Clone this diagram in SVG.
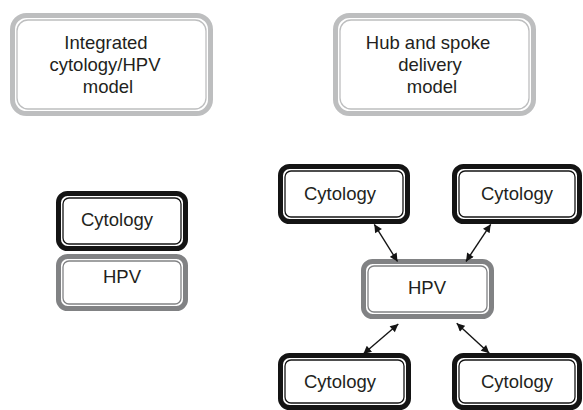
<svg xmlns="http://www.w3.org/2000/svg" width="583" height="410" viewBox="0 0 583 410">
<style>
  .t{font-family:"Liberation Sans",Arial,sans-serif;font-size:18.5px;fill:#231f20;text-anchor:middle}
  .o{fill:#fff;stroke-width:5}
  .i{fill:none;stroke-width:1.3}
  .lg{stroke:#bdbebf}
  .dg{stroke:#818284}
  .bk{stroke:#141414}
  .conn line{stroke:#141414;stroke-width:1.4}
</style>
<defs>
  <marker id="ah" viewBox="0 0 10 10" refX="10" refY="5" markerWidth="9" markerHeight="8" markerUnits="userSpaceOnUse" orient="auto-start-reverse">
    <path d="M0,0 L10,5 L0,10 z" fill="#141414"/>
  </marker>
</defs>
<rect width="583" height="410" fill="#fff"/>

<g id="integrated-model">
  <rect class="o lg" x="12.5" y="15.5" width="198" height="98" rx="14"/>
  <rect class="i lg" x="17" y="20" width="189" height="89" rx="11"/>
  <text class="t" x="106" y="49">Integrated</text>
  <text class="t" x="105" y="71">cytology/HPV</text>
  <text class="t" x="108" y="93">model</text>
</g>

<g id="hub-spoke-model">
  <rect class="o lg" x="335.5" y="15.5" width="198" height="98" rx="14"/>
  <rect class="i lg" x="340" y="20" width="189" height="89" rx="11"/>
  <text class="t" x="428" y="49">Hub and spoke</text>
  <text class="t" x="430" y="71">delivery</text>
  <text class="t" x="432" y="93">model</text>
</g>

<g id="left-cytology">
  <rect class="o bk" x="58.5" y="193.5" width="127" height="55" rx="9"/>
  <rect class="i bk" x="63" y="198" width="118" height="46" rx="6"/>
  <text class="t" x="117" y="226">Cytology</text>
</g>

<g id="left-hpv">
  <rect class="o dg" x="58.5" y="256.5" width="127" height="52" rx="9"/>
  <rect class="i dg" x="63" y="261" width="118" height="43" rx="6"/>
  <text class="t" x="122" y="283">HPV</text>
</g>

<g id="cytology-tl">
  <rect class="o bk" x="280.5" y="166.5" width="127" height="55" rx="9"/>
  <rect class="i bk" x="285" y="171" width="118" height="46" rx="6"/>
  <text class="t" x="340" y="199.5">Cytology</text>
</g>

<g id="cytology-tr">
  <rect class="o bk" x="454.5" y="166.5" width="125" height="55" rx="9"/>
  <rect class="i bk" x="459" y="171" width="116" height="46" rx="6"/>
  <text class="t" x="517" y="199.5">Cytology</text>
</g>

<g id="hub-hpv">
  <rect class="o dg" x="363.5" y="261.5" width="128" height="55" rx="9"/>
  <rect class="i dg" x="368" y="266" width="119" height="46" rx="6"/>
  <text class="t" x="427" y="293.5">HPV</text>
</g>

<g id="cytology-bl">
  <rect class="o bk" x="280.5" y="355.5" width="128" height="52" rx="9"/>
  <rect class="i bk" x="285" y="360" width="119" height="43" rx="6"/>
  <text class="t" x="340" y="387.5">Cytology</text>
</g>

<g id="cytology-br">
  <rect class="o bk" x="454.5" y="355.5" width="125" height="52" rx="9"/>
  <rect class="i bk" x="459" y="360" width="116" height="43" rx="6"/>
  <text class="t" x="517" y="387.5">Cytology</text>
</g>

<g id="connectors" class="conn">
  <line x1="374.3" y1="224.3" x2="397.5" y2="261.5" marker-start="url(#ah)" marker-end="url(#ah)"/>
  <line x1="490.7" y1="224.3" x2="466" y2="261.5" marker-start="url(#ah)" marker-end="url(#ah)"/>
  <line x1="398.3" y1="324" x2="363.3" y2="354" marker-start="url(#ah)" marker-end="url(#ah)"/>
  <line x1="456.7" y1="323.3" x2="489.3" y2="353.3" marker-start="url(#ah)" marker-end="url(#ah)"/>
</g>
</svg>
